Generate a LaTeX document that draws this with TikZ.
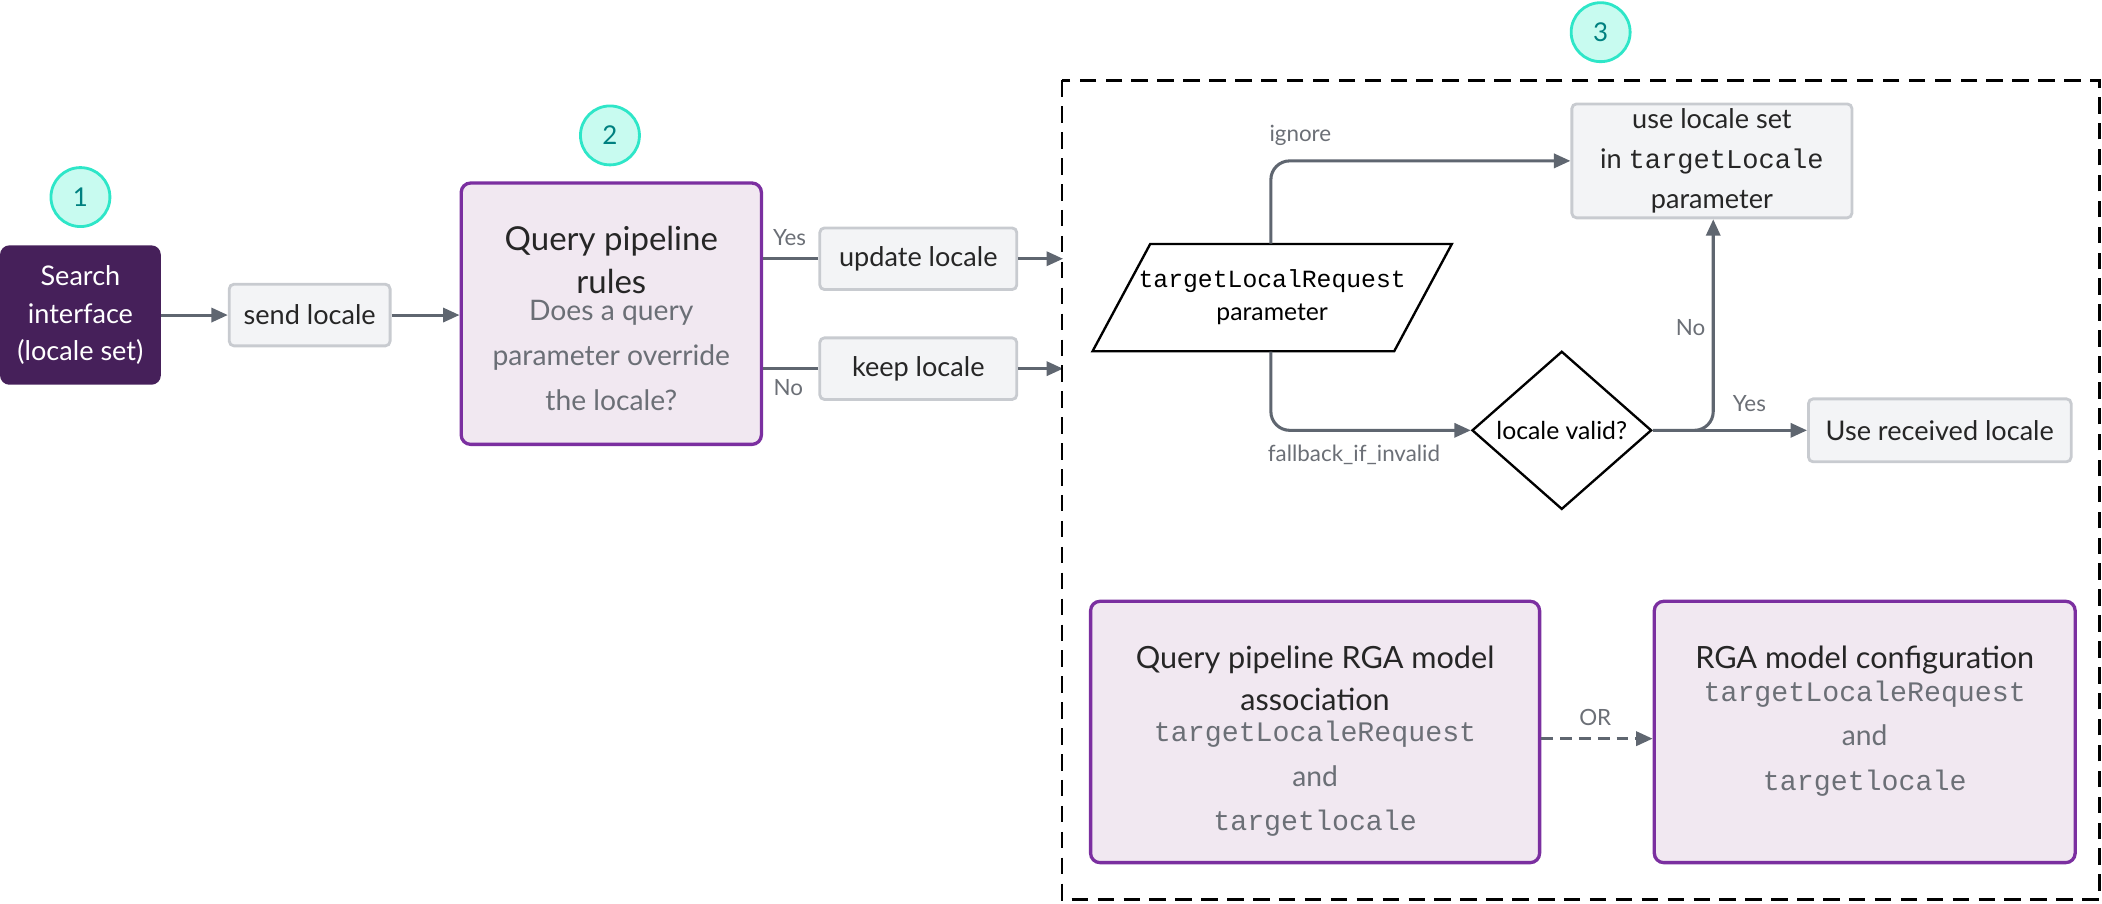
\documentclass[tikz,border=0pt]{standalone}
\usepackage{fontspec}
\setmainfont{Lato}
\setmonofont{Liberation Mono}
\usetikzlibrary{shapes.geometric,arrows.meta}
\definecolor{lineg}{HTML}{5F6670}
\definecolor{boxg}{HTML}{F3F4F6}
\definecolor{bordg}{HTML}{C8CBD0}
\definecolor{purp}{HTML}{7B2FA0}
\definecolor{lilac}{HTML}{F1E8F1}
\definecolor{darkp}{HTML}{46205A}
\definecolor{mint}{HTML}{C8FBF0}
\definecolor{mintb}{HTML}{2EE6C8}
\definecolor{txtg}{HTML}{6B6F76}
\begin{document}
\begin{tikzpicture}[x=0.02cm, y=-0.02cm,
    stepnum/.style={circle, fill=mint, draw=mintb, line width=1.2pt, minimum size=0.88cm, inner sep=0pt, font=\fontsize{11}{13}\selectfont, text=teal},
    small/.style={rectangle, rounded corners=2pt, fill=boxg, draw=bordg, line width=1.2pt, font=\fontsize{11.5}{14}\selectfont, text=black!85, inner sep=0pt},
    rule/.style={rectangle, rounded corners=4pt, fill=lilac, draw=purp, line width=1.4pt, inner sep=0pt, align=center, text=black!85},
    lbl/.style={font=\fontsize{9.5}{12}\selectfont, text=txtg, inner sep=1pt},
    arr/.style={draw=lineg, line width=1.3pt, -{Triangle[length=7pt,width=6pt]}},
    ln/.style={draw=lineg, line width=1.3pt}]
  \useasboundingbox (0,0) rectangle (1568,674);
  \node [stepnum] (s1) at (60,147) {1};
  \node [stepnum] (s2) at (455,101) {2};
  \node [stepnum] (s3) at (1194,24) {3};
  \node [rectangle, rounded corners=4pt, fill=darkp, text=white, minimum width=2.4cm, minimum height=2.08cm, align=center, font=\fontsize{11.5}{16}\selectfont, inner sep=0pt] (search) at (60,235) {Search\\interface\\(locale set)};
  \node [small, minimum width=2.4cm, minimum height=0.92cm] (send) at (231,235) {send locale};
  \node [rule, minimum width=4.48cm, minimum height=3.9cm] (qpr) at (456,234) {};
  \node [align=center, font=\fontsize{14}{18}\selectfont, text=black!85] (qprt) at (456,194) {Query pipeline\\rules};
  \node [align=center, font=\fontsize{12}{19}\selectfont, text=txtg] (qprq) at (456,265) {Does a query\\parameter override\\the locale?};
  \node [small, minimum width=2.94cm, minimum height=0.92cm] (upd) at (685,193) {update locale};
  \node [small, minimum width=2.94cm, minimum height=0.92cm] (keep) at (685,275) {keep locale};
  \coordinate (upde) at (793,193);
  \coordinate (keepe) at (793,275);
  \draw [arr] (search.east) -- (send.west);
  \draw [arr] (send.east) -- (send.east -| qpr.west);
  \draw [ln] (qpr.east |- upd) -- (upd.west);
  \draw [ln] (qpr.east |- keep) -- (keep.west);
  \draw [arr] (upd.east) -- (upde);
  \draw [arr] (keep.east) -- (keepe);
  \node [lbl] at (589,177) {Yes};
  \node [lbl] at (588,289) {No};
  % dashed area
  \draw [dashed, dash pattern=on 7pt off 4pt, line width=1pt] (792,60) rectangle (1566,671);
  \draw [line width=1pt, fill=white] (858,182) -- (1083,182) -- (1040,262) -- (815,262) -- cycle;
  \node [minimum width=3.4cm, minimum height=1.6cm, align=center, font=\fontsize{10.5}{14}\selectfont, inner sep=0pt] (req) at (949,222) {\texttt{targetLocalRequest}\\parameter};
  \node [small, minimum width=4.18cm, minimum height=1.7cm, align=center, font=\fontsize{11.5}{17}\selectfont] (use) at (1277,120) {use locale set\\in \texttt{targetLocale}\\parameter};
  \node [diamond, draw, line width=1pt, fill=white, minimum width=2.68cm, minimum height=2.36cm, inner sep=0pt, aspect=1.13, font=\fontsize{10.5}{13}\selectfont] (valid) at (1165,321) {locale valid?};
  \node [small, minimum width=3.92cm, minimum height=0.94cm] (recv) at (1447,321) {Use received locale};
  \draw [arr, rounded corners=8pt] (req.north -| 948,0) -- (948,120) -- (use.west);
  \draw [arr, rounded corners=8pt] (req.south -| 948,0) -- (948,321) -- (valid.west);
  \draw [arr, rounded corners=8pt] (valid.east) -- (1278,321) -- (use.south -| 1278,0);
  \draw [arr] (valid.east) -- (recv.west);
  \node [lbl] at (970,101) {ignore};
  \node [lbl] at (1010,339) {fallback\_if\_invalid};
  \node [lbl] at (1261,244) {No};
  \node [lbl] at (1305,301) {Yes};
  \node [rule, minimum width=6.7cm, minimum height=3.9cm] (assoc) at (981,546) {};
  \node [align=center, font=\fontsize{13}{18}\selectfont, text=black!85] at (981,506) {Query pipeline RGA model\\association};
  \node [align=center, font=\fontsize{12}{19}\selectfont, text=txtg] at (981,581) {\texttt{targetLocaleRequest}\\and\\\texttt{targetlocale}};
  \node [rule, minimum width=6.28cm, minimum height=3.9cm] (cfg) at (1391,546) {};
  \node [font=\fontsize{13}{18}\selectfont, text=black!85] at (1391,492) {RGA model configuration};
  \node [align=center, font=\fontsize{12}{19}\selectfont, text=txtg] at (1391,551) {\texttt{targetLocaleRequest}\\and\\\texttt{targetlocale}};
  \draw [arr, dashed, dash pattern=on 5pt off 3pt] (assoc.east |- 0,551) -- (cfg.west |- 0,551);
  \node [lbl] at (1190,535) {OR};
\end{tikzpicture}
\end{document}
